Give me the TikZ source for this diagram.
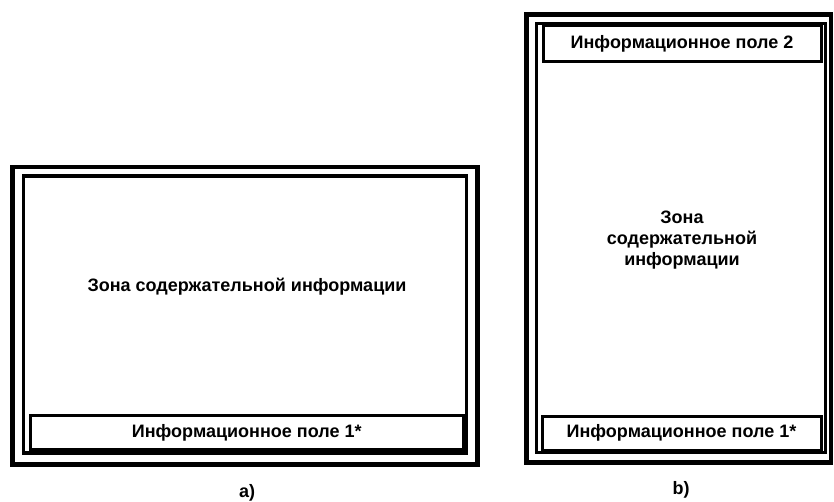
\documentclass[tikz,border=0pt]{standalone}
\usepackage{fontspec}
\setmainfont{Liberation Sans}
\begin{document}
\begin{tikzpicture}[x=1pt, y=-1pt,
    every node/.style={font=\fontsize{18}{21}\selectfont\bfseries, inner sep=0pt},
    outerframe/.style={line width=4.5pt},
    innerframe/.style={line width=3.5pt},
    fieldbox/.style={draw, line width=3pt}]
\useasboundingbox (0,0) rectangle (834,502);
% a)
\draw[outerframe] (12.5, 167) rectangle (477.5, 464.5) ; % FrameA.outer
\draw[innerframe] (23.5, 176) rectangle (466.5, 453) ; % FrameA.inner
\node (zoneA) at (247, 287) {Зона содержательной информации} ; % ZoneA
\node[fieldbox, minimum width=433.5pt, minimum height=34pt] (fieldA1) at (246.75, 432.5) {Информационное поле 1*} ; % FieldA.1
\node (labelA) at (247, 493) {а)} ; % LabelA
% b)
\draw[outerframe] (526.5, 14.5) rectangle (831, 462.5) ; % FrameB.outer
\draw[innerframe] (536.5, 23.5) rectangle (825.5, 452.5) ; % FrameB.inner
\node[fieldbox, minimum width=278pt, minimum height=36pt] (fieldB2) at (682, 43.5) {Информационное поле 2} ; % FieldB.2
\node[align=center] (zoneB) at (682, 240) {Зона\\содержательной\\информации} ; % ZoneB
\node[fieldbox, minimum width=279pt, minimum height=33.5pt] (fieldB1) at (681.5, 433.25) {Информационное поле 1*} ; % FieldB.1
\node (labelB) at (681, 490) {b)} ; % LabelB
\end{tikzpicture}
\end{document}
